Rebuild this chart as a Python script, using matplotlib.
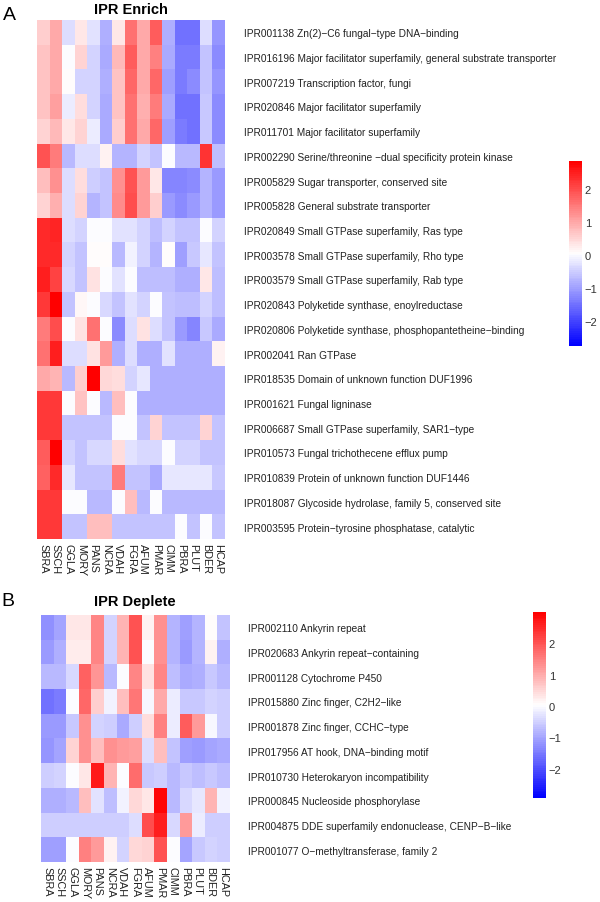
import matplotlib.pyplot as plt
import numpy as np
from matplotlib.colors import LinearSegmentedColormap

plt.rcParams['font.family'] = ['Liberation Sans', 'DejaVu Sans']

species = ['SBRA', 'SSCH', 'GGLA', 'MORY', 'PANS', 'NCRA', 'VDAH', 'FGRA',
           'AFUM', 'PMAR', 'CIMM', 'PBRA', 'PLUT', 'BDER', 'HCAP']

enrich_labels = [
    'IPR001138 Zn(2)\u2212C6 fungal\u2212type DNA\u2212binding',
    'IPR016196 Major facilitator superfamily, general substrate transporter',
    'IPR007219 Transcription factor, fungi',
    'IPR020846 Major facilitator superfamily',
    'IPR011701 Major facilitator superfamily',
    'IPR002290 Serine/threonine \u2212dual specificity protein kinase',
    'IPR005829 Sugar transporter, conserved site',
    'IPR005828 General substrate transporter',
    'IPR020849 Small GTPase superfamily, Ras type',
    'IPR003578 Small GTPase superfamily, Rho type',
    'IPR003579 Small GTPase superfamily, Rab type',
    'IPR020843 Polyketide synthase, enoylreductase',
    'IPR020806 Polyketide synthase, phosphopantetheine\u2212binding',
    'IPR002041 Ran GTPase',
    'IPR018535 Domain of unknown function DUF1996',
    'IPR001621 Fungal ligninase',
    'IPR006687 Small GTPase superfamily, SAR1\u2212type',
    'IPR010573 Fungal trichothecene efflux pump',
    'IPR010839 Protein of unknown function DUF1446',
    'IPR018087 Glycoside hydrolase, family 5, conserved site',
    'IPR003595 Protein\u2212tyrosine phosphatase, catalytic',
]

enrich_values = [
    [0.6, 1.0, -0.3, 0.3, -0.25, -0.8, 0.3, 1.6, 1.0, 1.8, -0.8, -1.5, -1.5, -0.3, -1.1],
    [0.7, 1.0, 0.0, 0.5, -0.4, -0.9, 0.8, 1.8, 1.0, 1.4, -0.9, -1.4, -1.4, -0.6, -1.2],
    [0.7, 1.0, 0.05, -0.4, -0.4, -0.8, 0.7, 1.7, 1.0, 1.7, -1.0, -1.4, -1.2, -0.6, -1.1],
    [0.7, 1.1, -0.15, 0.4, -0.45, -0.9, 0.7, 1.6, 0.9, 1.5, -0.9, -1.5, -1.5, -0.55, -1.2],
    [0.55, 0.8, 0.3, 0.5, -0.15, -0.9, 0.6, 1.6, 1.0, 1.7, -1.0, -1.4, -1.5, -0.55, -1.2],
    [1.9, 1.5, -0.7, -0.3, -0.3, 0.2, -0.75, -0.75, -0.45, -0.6, 0.0, -0.7, -0.7, 2.25, -0.65],
    [0.75, 1.25, -0.3, 0.4, -0.5, -0.6, 1.25, 1.9, 1.15, 0.3, -1.25, -1.25, -1.2, -0.75, -1.05],
    [0.5, 0.9, -0.3, 0.5, -0.75, -0.6, 1.3, 2.0, 1.15, 0.6, -1.05, -1.2, -1.05, -0.75, -1.05],
    [2.35, 2.45, -0.3, -0.45, 0.0, 0.0, -0.25, -0.25, -0.45, -0.65, -0.4, -0.6, -0.6, 0.0, -0.4],
    [2.4, 2.4, -0.45, -0.6, 0.1, 0.1, -0.7, -0.1, -0.45, -0.75, 0.05, -1.0, -0.55, -0.2, -0.6],
    [2.5, 2.1, -0.35, -0.6, 0.35, 0.0, -0.25, 0.0, -0.65, -0.65, -0.65, -0.8, -0.8, 0.3, -0.65],
    [2.2, 2.8, -0.6, 0.15, 0.0, -0.35, -0.6, -0.25, -0.4, 0.0, -0.6, -0.65, -0.65, -0.4, -0.65],
    [1.5, 2.0, 0.0, 0.35, 1.6, 0.0, -1.2, -0.3, 0.35, -0.3, -0.6, -1.05, -1.25, -0.55, -0.9],
    [1.6, 2.5, -0.3, -0.3, 0.35, 1.15, -0.8, -0.3, -0.8, -0.8, -0.25, -0.8, -0.8, -0.8, 0.2],
    [1.0, 0.85, -0.7, 0.6, 2.8, 0.45, 0.4, -0.4, -0.2, -0.8, -0.8, -0.8, -0.8, -0.8, -0.8],
    [2.2, 2.2, 0.0, 0.7, 0.0, -0.7, 0.75, 0.0, -0.8, -0.8, -0.8, -0.8, -0.8, -0.8, -0.8],
    [2.2, 2.2, -0.6, -0.6, -0.6, -0.6, 0.0, 0.0, -0.6, 0.55, -0.6, -0.6, -0.6, 0.55, -0.6],
    [1.8, 2.8, -0.45, -0.6, -0.35, -0.35, 0.4, -0.25, -0.35, -0.35, 0.0, -0.4, -0.4, -0.6, -0.6],
    [1.75, 2.35, -0.2, -0.6, -0.6, -0.6, 1.5, -0.6, -0.6, -0.9, -0.2, -0.2, -0.2, -0.2, -0.55],
    [2.2, 2.2, 0.0, 0.0, -0.7, -0.7, 0.0, 0.75, -0.7, 0.0, -0.7, -0.7, -0.7, -0.7, -0.7],
    [2.2, 2.2, -0.6, -0.6, 0.75, 0.75, -0.6, -0.6, -0.6, -0.6, -0.6, 0.0, -0.6, 0.0, -0.6],
]

deplete_labels = [
    'IPR002110 Ankyrin repeat',
    'IPR020683 Ankyrin repeat\u2212containing',
    'IPR001128 Cytochrome P450',
    'IPR015880 Zinc finger, C2H2\u2212like',
    'IPR001878 Zinc finger, CCHC\u2212type',
    'IPR017956 AT hook, DNA\u2212binding motif',
    'IPR010730 Heterokaryon incompatibility',
    'IPR000845 Nucleoside phosphorylase',
    'IPR004875 DDE superfamily endonuclease, CENP\u2212B\u2212like',
    'IPR001077 O\u2212methyltransferase, family 2',
]

deplete_values = [
    [-1.25, -1.0, 0.3, 0.3, 1.4, -0.5, 0.9, 2.0, 0.15, 1.3, -0.85, -1.05, -0.85, 0.05, -0.65],
    [-1.1, -0.9, 0.25, 0.25, 1.4, -0.5, 0.9, 2.0, 0.0, 1.3, -0.85, -1.1, -0.85, 0.2, -0.9],
    [-0.75, -0.75, -0.4, 1.85, 1.25, -0.75, 0.0, 1.4, 0.35, 1.4, -0.7, -0.95, -0.9, -0.6, -0.75],
    [-1.6, -1.5, 0.0, 1.8, 0.6, -0.1, 0.8, 1.6, -0.05, 1.0, -0.2, -0.6, -0.6, -0.45, -0.55],
    [-1.1, -1.1, -0.6, 1.3, -0.45, -0.55, -0.95, -0.55, 0.4, 1.5, -0.2, 1.9, 1.2, -0.05, -0.55],
    [-1.2, -1.0, 0.55, 1.3, 0.8, 1.3, 1.2, 1.15, -0.35, 0.75, -0.65, -1.05, -1.15, -1.0, -0.95],
    [-0.55, -0.5, 0.0, 0.3, 2.7, 0.9, 0.0, 1.7, -0.6, -0.55, -0.75, -0.6, -0.7, -0.6, -0.7],
    [-0.9, -0.9, -0.8, 0.75, -0.3, -0.7, -0.1, 0.45, 0.3, 2.9, -0.8, -0.4, -0.25, 0.9, -0.1],
    [-0.55, -0.55, -0.55, -0.55, -0.55, -0.55, -0.55, -0.35, 2.1, 2.6, -0.4, 1.2, -0.15, -0.55, -0.55],
    [-1.05, -1.05, 0.0, 1.5, 1.2, 0.15, -0.5, 0.5, 0.55, 2.0, 0.0, -1.0, -0.6, -0.45, -0.55],
]

cmap = LinearSegmentedColormap.from_list('bwr_ph', ['#0000FF', '#FFFFFF', '#FF0000'], N=100)

W, H = 600, 903
fig = plt.figure(figsize=(W / 100, H / 100), dpi=100)


def px_axes(left, top, right, bottom):
    return fig.add_axes([left / W, 1 - bottom / H, (right - left) / W, (bottom - top) / H])


def draw_panel(values, labels, box, cbox, vmin, vmax, title, title_pad, letter, letter_xy):
    ax = px_axes(*box)
    data = np.array(values)
    im = ax.imshow(data, cmap=cmap, vmin=vmin, vmax=vmax, aspect='auto',
                   interpolation='nearest')
    ax.set_xticks(range(len(species)))
    ax.set_xticklabels(species, rotation=270, fontsize=7.8, color='#222222')
    ax.set_yticks(range(len(labels)))
    ax.set_yticklabels(labels, fontsize=7.3, color='#222222')
    ax.yaxis.tick_right()
    ax.tick_params(axis='both', length=0)
    ax.tick_params(axis='y', pad=14)
    ax.tick_params(axis='x', pad=3)
    for s in ax.spines.values():
        s.set_visible(False)
    ax.set_title(title, fontsize=10.5, fontweight='bold', pad=title_pad)
    fig.text(letter_xy[0] / W, 1 - letter_xy[1] / H, letter, fontsize=14,
             ha='center', va='center')

    cax = px_axes(*cbox)
    cb = fig.colorbar(im, cax=cax, ticks=[-2, -1, 0, 1, 2])
    cb.ax.set_yticklabels(['\u22122', '\u22121', '0', '1', '2'])
    cb.outline.set_visible(False)
    cb.ax.tick_params(length=0, labelsize=8, colors='#333333', pad=2)
    return ax


draw_panel(enrich_values, enrich_labels, (37, 21, 224.5, 540), (569, 162, 582, 347),
           -2.75, 2.85, 'IPR Enrich', 5, 'A', (9, 15))
draw_panel(deplete_values, deplete_labels, (40.7, 616, 229, 863), (533, 613, 546, 799),
           -2.94, 3.0, 'IPR Deplete', 7, 'B', (8, 601))

fig.savefig('out.png', dpi=100)
